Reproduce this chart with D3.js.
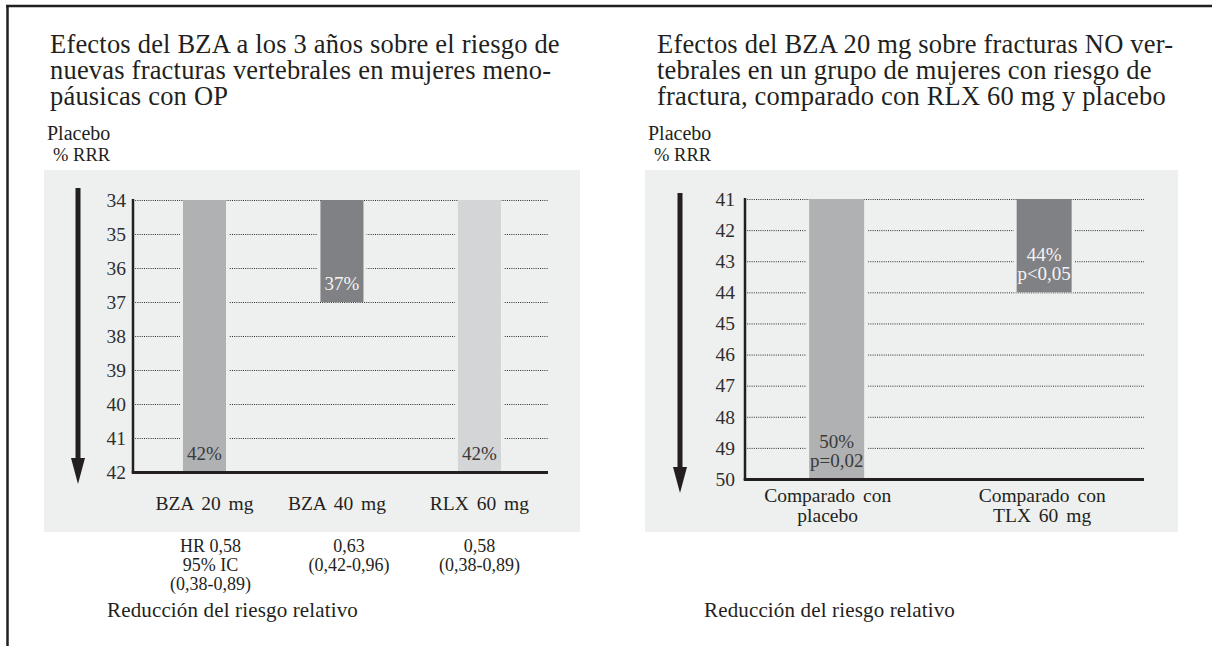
<!DOCTYPE html>
<html>
<head>
<meta charset="utf-8">
<script src="https://cdn.jsdelivr.net/npm/d3@7"></script>
<style>
  html, body { margin: 0; padding: 0; background: #ffffff; }
  svg { display: block; }
  text { font-family: "Liberation Serif", "Times New Roman", serif; fill: #231f20; }
</style>
</head>
<body>
<svg id="chart" width="1212" height="646"></svg>
<script>
// ---------- DATA ----------
const leftTitle = ["Efectos del BZA a los 3 años sobre el riesgo de",
                   "nuevas fracturas vertebrales en mujeres meno-",
                   "páusicas con OP"];
const rightTitle = ["Efectos del BZA 20 mg sobre fracturas NO ver-",
                    "tebrales en un grupo de mujeres con riesgo de",
                    "fractura, comparado con RLX 60 mg y placebo"];
const axisTitle = ["Placebo", "% RRR"];
const footer = "Reducción del riesgo relativo";

const leftCategories = ["BZA 20 mg", "BZA 40 mg", "RLX 60 mg"];
const leftValues = [42, 37, 42];
const leftBarLabels = [["42%"], ["37%"], ["42%"]];
const leftTicks = [34, 35, 36, 37, 38, 39, 40, 41, 42];
const leftNotes = [["HR 0,58", "95% IC", "(0,38-0,89)"],
                   ["0,63", "(0,42-0,96)"],
                   ["0,58", "(0,38-0,89)"]];

const rightCategories = [["Comparado con", "placebo"], ["Comparado con", "TLX 60 mg"]];
const rightValues = [50, 44];
const rightBarLabels = [["50%", "p=0,02"], ["44%", "p<0,05"]];
const rightTicks = [41, 42, 43, 44, 45, 46, 47, 48, 49, 50];

const leftColors = ["#b0b1b3", "#808184", "#d4d5d7"];
const leftLabelColors = ["#3a3a3a", "#f4f4f4", "#3a3a3a"];
const rightColors = ["#b0b1b3", "#808184"];
const rightLabelColors = ["#3a3a3a", "#f4f4f4"];

// ---------- DRAW ----------
const svg = d3.select("#chart");
const ink = "#231f20";
const panelBg = "#eef0ef";

// outer frame (left and top edges)
svg.append("line").attr("x1", 7.5).attr("x2", 7.5).attr("y1", 5).attr("y2", 646)
  .attr("stroke", ink).attr("stroke-width", 2.5);
svg.append("line").attr("x1", 6).attr("x2", 1212).attr("y1", 6).attr("y2", 6)
  .attr("stroke", ink).attr("stroke-width", 2.5);

function panel(cfg) {
  const g = svg.append("g");
  // title
  g.append("text").attr("x", cfg.titleX).attr("y", 53)
    .style("font-size", "26.5px").style("letter-spacing", "0.2px")
    .selectAll("tspan").data(cfg.title).join("tspan")
    .attr("x", cfg.titleX).attr("dy", (d, i) => i === 0 ? 0 : 26).text(d => d);
  // Placebo / % RRR
  g.append("text").attr("x", cfg.bgX + 3).attr("y", 140).style("font-size", "20px").text(axisTitle[0]);
  g.append("text").attr("x", cfg.bgX + 9).attr("y", 161).style("font-size", "18.5px").text(axisTitle[1]);
  // background
  g.append("rect").attr("x", cfg.bgX).attr("y", 170).attr("width", cfg.bgW).attr("height", 362)
    .attr("fill", panelBg);

  const y = d3.scaleLinear().domain([cfg.ticks[0], cfg.ticks[cfg.ticks.length - 1]])
    .range([cfg.yTop, cfg.yBottom]);
  const x = d3.scaleBand().domain(cfg.categories.map((d, i) => i))
    .range([cfg.axisX, cfg.gridEnd])
    .paddingInner(cfg.padInner).paddingOuter(cfg.padOuter).align(cfg.align);

  // grid lines
  g.append("g").selectAll("line").data(cfg.ticks.slice(0, -1)).join("line")
    .attr("x1", cfg.axisX).attr("x2", cfg.gridEnd)
    .attr("y1", d => y(d) + 0.5).attr("y2", d => y(d) + 0.5)
    .attr("stroke", "#2b2b2b").attr("stroke-width", 1).attr("stroke-dasharray", "1 1.2");

  // gaps around bars + bars
  g.append("g").selectAll("rect").data(cfg.values).join("rect")
    .attr("x", (d, i) => x(i) - 3).attr("width", x.bandwidth() + 6)
    .attr("y", y(cfg.ticks[0]) + 2).attr("height", d => Math.max(0, y(d) - y(cfg.ticks[0]) - 2))
    .attr("fill", panelBg);
  g.append("g").selectAll("rect").data(cfg.values).join("rect")
    .attr("x", (d, i) => x(i)).attr("width", x.bandwidth())
    .attr("y", y(cfg.ticks[0])).attr("height", d => y(d) - y(cfg.ticks[0]))
    .attr("fill", (d, i) => cfg.colors[i]);

  // bar value labels
  cfg.values.forEach((v, i) => {
    const lines = cfg.barLabels[i];
    g.append("g").selectAll("text").data(lines).join("text")
      .attr("x", x(i) + x.bandwidth() / 2)
      .attr("y", (d, k) => y(v) - 19 * (lines.length - k) + 7)
      .attr("text-anchor", "middle").style("font-size", "19px")
      .style("fill", cfg.labelColors[i]).text(d => d);
  });

  // y axis tick labels
  const ax = d3.axisLeft(y).tickValues(cfg.ticks).tickSize(0).tickPadding(0).tickFormat(d3.format("d"));
  const axG = g.append("g").attr("transform", `translate(${cfg.tickRight},0)`).call(ax);
  axG.select(".domain").remove();
  axG.selectAll("text").style("font-family", "'Liberation Serif', serif")
    .style("font-size", "19.5px").style("fill", "#2e2e2e");

  // axis frame lines
  g.append("line").attr("x1", cfg.axisX).attr("x2", cfg.axisX)
    .attr("y1", cfg.yTop - 1).attr("y2", cfg.yBottom + 1)
    .attr("stroke", ink).attr("stroke-width", 2.5);
  g.append("line").attr("x1", cfg.axisX - 1.25).attr("x2", cfg.gridEnd)
    .attr("y1", cfg.yBottom + 0.5).attr("y2", cfg.yBottom + 0.5)
    .attr("stroke", ink).attr("stroke-width", 3);

  // downward arrow
  g.append("line").attr("x1", cfg.arrowX).attr("x2", cfg.arrowX)
    .attr("y1", cfg.arrowTop).attr("y2", cfg.arrowTip - 20)
    .attr("stroke", ink).attr("stroke-width", 5);
  g.append("path")
    .attr("d", `M${cfg.arrowX - 7},${cfg.arrowTip - 26} L${cfg.arrowX + 7},${cfg.arrowTip - 26} L${cfg.arrowX},${cfg.arrowTip} Z`)
    .attr("fill", ink);

  // category labels
  cfg.categories.forEach((c, i) => {
    const lines = Array.isArray(c) ? c : [c];
    g.append("g").selectAll("text").data(lines).join("text")
      .attr("x", x(i) + x.bandwidth() / 2 + (cfg.catShift ? cfg.catShift[i] : 0))
      .attr("y", (d, k) => cfg.catY + k * 20)
      .attr("text-anchor", "middle").style("font-size", "19.5px")
      .style("word-spacing", "3px").text(d => d);
  });

  // notes under categories
  if (cfg.notes) {
    cfg.notes.forEach((n, i) => {
      g.append("g").selectAll("text").data(n).join("text")
        .attr("x", x(i) + x.bandwidth() / 2 + cfg.noteShift[i])
        .attr("y", (d, k) => 552 + k * 19)
        .attr("text-anchor", "middle").style("font-size", "18px").text(d => d);
    });
  }
  // footer
  g.append("text").attr("x", cfg.footerX).attr("y", cfg.footerY)
    .style("font-size", "21px").style("letter-spacing", "0.15px").text(footer);
}

panel({
  title: leftTitle, titleX: 50, bgX: 44, bgW: 536,
  ticks: leftTicks, yTop: 200, yBottom: 472,
  axisX: 133, gridEnd: 548, tickRight: 126,
  padInner: 0.687, padOuter: 0.353, align: 0.515,
  categories: leftCategories, values: leftValues, colors: leftColors,
  barLabels: leftBarLabels, labelColors: leftLabelColors,
  arrowX: 78, arrowTop: 188, arrowTip: 484,
  catY: 510, catShift: [0, -5, 0],
  notes: leftNotes, noteShift: [6, 7, 0],
  footerX: 107, footerY: 617
});

panel({
  title: rightTitle, titleX: 657, bgX: 645, bgW: 533,
  ticks: rightTicks, yTop: 199, yBottom: 479,
  axisX: 745, gridEnd: 1144, tickRight: 735,
  padInner: 0.735, padOuter: 0.329, align: 0.47,
  categories: rightCategories, values: rightValues, colors: rightColors,
  barLabels: rightBarLabels, labelColors: rightLabelColors,
  arrowX: 680, arrowTop: 193, arrowTip: 493,
  catY: 502, catShift: [-9, -2],
  footerX: 704, footerY: 617
});
</script>
</body>
</html>
